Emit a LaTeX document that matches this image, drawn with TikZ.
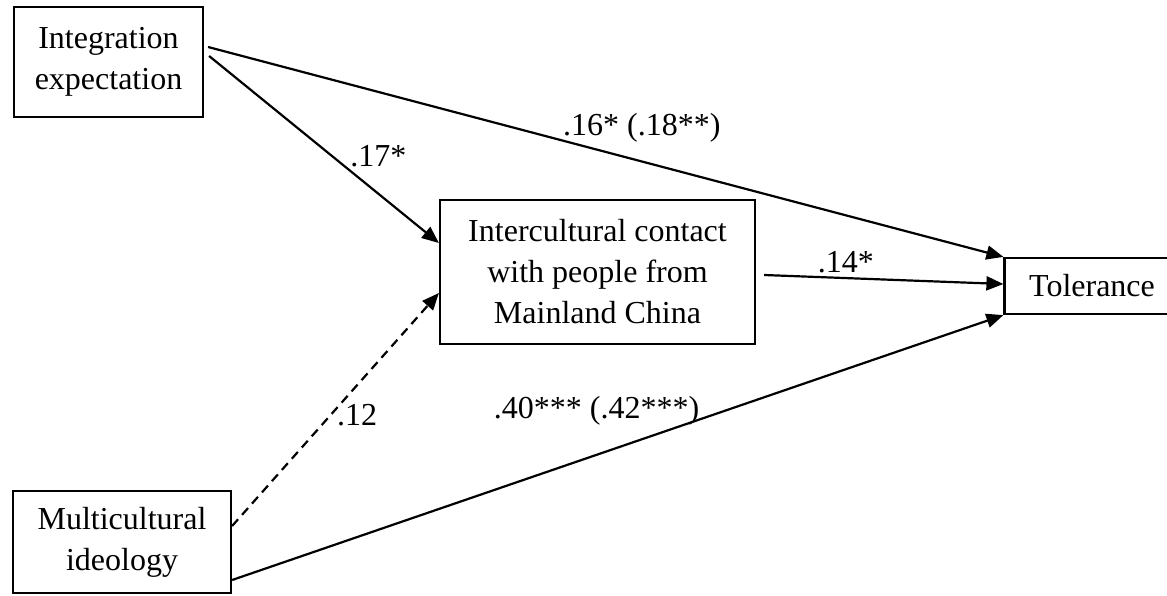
\documentclass[tikz,border=0pt]{standalone}
\usepackage{fontspec}
\setmainfont{Liberation Serif}
\usetikzlibrary{
  calc,
  positioning,
  arrows.meta
}

\begin{document}
\begin{tikzpicture}[> =Latex, x=1pt, y=-1pt]
  \tikzset{
    varbox/.style={
      draw, line width=2.2pt, align=center, inner sep=0pt,
      font=\fontsize{32}{41}\selectfont
    },
    pathline/.style={
      line width=2.2pt, -{Triangle[length=17pt,width=14pt]}
    },
    coef/.style={
      font=\fontsize{32}{41}\selectfont, inner sep=0pt, anchor=base west
    },
  }
  \useasboundingbox (0,0) rectangle (1167,595);

  \node[varbox, minimum width=189pt, minimum height=110pt] (integ) at (108.5,62)
    {Integration\\expectation};
  \node[varbox, minimum width=315pt, minimum height=144pt] (inter) at (597.5,272)
    {Intercultural contact\\with people from\\Mainland China};
  \node[varbox, minimum width=175pt, minimum height=56pt] (tol) at (1092,286)
    {Tolerance};
  \node[varbox, minimum width=218pt, minimum height=102pt] (multi) at (122,542)
    {Multicultural\\ideology};

  % paths
  \draw[pathline] ([shift={(4,-15)}]integ.east) -- (tol.north west)
    node[coef, pos=0.445, yshift=5pt] {.16* (.18**)};
  \draw[pathline] ([shift={(5,-6)}]integ.east) -- ([yshift=29pt]inter.west)
    node[coef, pos=0.61, yshift=4pt] {.17*};
  \draw[pathline] ([shift={(8,3)}]inter.east) -- ([yshift=2pt]tol.west)
    node[coef, pos=0.22, yshift=4pt] {.14*};
  \draw[pathline, dash pattern=on 9pt off 6pt] ([yshift=16pt]multi.east) -- ([yshift=-21pt]inter.west)
    node[coef, pos=0.43, xshift=15pt] {.12};
  \draw[pathline] ([yshift=-38pt]multi.east) -- (tol.south west)
    node[coef, anchor=base east, pos=0.607, yshift=1pt] {.40*** (.42***)};
\end{tikzpicture}
\end{document}
